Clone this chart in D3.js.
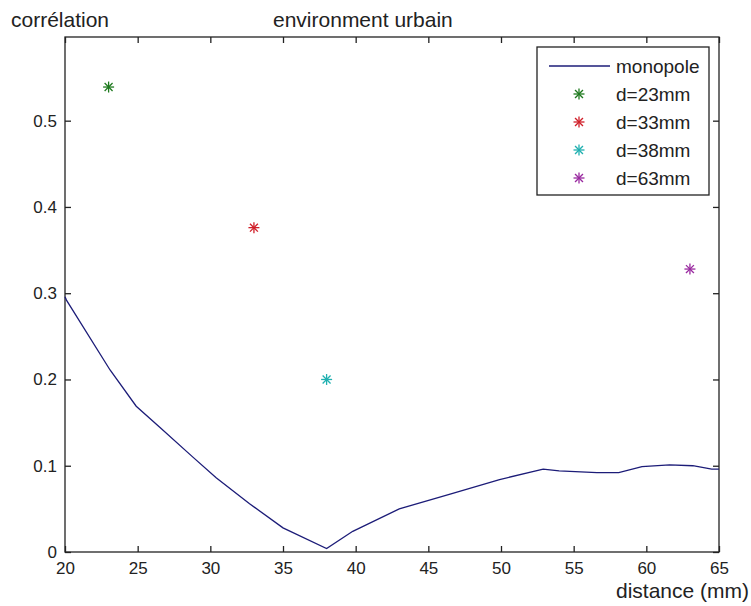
<!DOCTYPE html>
<html><head><meta charset="utf-8">
<script src="https://cdn.jsdelivr.net/npm/d3@7"></script>
<style>body{margin:0;background:#fff}svg{display:block}text{font-family:"Liberation Sans",Arial,sans-serif;fill:#222}</style>
</head><body><svg id="c" width="751" height="606"></svg>
<script>
const lineX = [20, 20.1, 23.1, 24.9, 26.5, 28.8, 30.4, 32.7, 35, 38, 39.8, 43, 46.5, 49.9, 52.9, 54, 56.6, 58.1, 59.7, 61.6, 63.2, 64.5, 65];
const lineY = [0.296, 0.292, 0.211, 0.169, 0.145, 0.110, 0.086, 0.056, 0.028, 0.004, 0.024, 0.050, 0.067, 0.084, 0.096, 0.094, 0.092, 0.092, 0.099, 0.101, 0.100, 0.096, 0.096];
const pointLabels = ["d=23mm", "d=33mm", "d=38mm", "d=63mm"];
const pointX = [23, 33, 38, 63];
const pointY = [0.539, 0.376, 0.200, 0.328];
const pointColors = ["#1f7a1f", "#d0202a", "#20b0b0", "#9a2aa0"];
const xTicks = [20, 25, 30, 35, 40, 45, 50, 55, 60, 65];
const yTicks = [0, 0.1, 0.2, 0.3, 0.4, 0.5];
const lineColor = "#1c1c78";

const svg = d3.select("#c");
const L = 65, R = 719, T = 37, B = 552;
const x = d3.scaleLinear().domain([20, 65]).range([L, R]);
const y = d3.scaleLinear().domain([0, 0.597]).range([B, T]);

svg.append("rect").attr("x", L).attr("y", T).attr("width", R - L).attr("height", B - T)
  .attr("fill", "none").attr("stroke", "#222").attr("stroke-width", 1.3);

const fmtY = d => d === 0 ? "0" : d3.format(".1f")(d);
const gx = svg.append("g").attr("transform", `translate(0,${B})`)
  .call(d3.axisBottom(x).tickValues(xTicks).tickSizeInner(-6).tickSizeOuter(0).tickPadding(9));
const gxt = svg.append("g").attr("transform", `translate(0,${T})`)
  .call(d3.axisTop(x).tickValues(xTicks).tickSizeInner(-6).tickSizeOuter(0).tickFormat(""));
const gy = svg.append("g").attr("transform", `translate(${L},0)`)
  .call(d3.axisLeft(y).tickValues(yTicks).tickSizeInner(-6).tickSizeOuter(0).tickPadding(8).tickFormat(fmtY));
const gyr = svg.append("g").attr("transform", `translate(${R},0)`)
  .call(d3.axisRight(y).tickValues(yTicks).tickSizeInner(-6).tickSizeOuter(0).tickFormat(""));
[gx, gxt, gy, gyr].forEach(g => {
  g.select(".domain").remove();
  g.selectAll(".tick line").attr("stroke", "#222").attr("stroke-width", 1.3);
  g.selectAll("text").style("font-size", "17px").attr("fill", "#222");
});
gx.selectAll("text").attr("dy", "0.75em");

svg.append("path").datum(lineX.map((d, i) => [d, lineY[i]]))
  .attr("d", d3.line().x(d => x(d[0])).y(d => y(d[1])))
  .attr("fill", "none").attr("stroke", lineColor).attr("stroke-width", 1.3);

function star(g, cx, cy, color, r) {
  const a = r * 0.72;
  const segs = [[-r, 0, r, 0], [0, -r, 0, r], [-a, -a, a, a], [-a, a, a, -a]];
  segs.forEach(s => g.append("line").attr("x1", cx + s[0]).attr("y1", cy + s[1])
    .attr("x2", cx + s[2]).attr("y2", cy + s[3]).attr("stroke", color).attr("stroke-width", 1.3));
}
pointX.forEach((d, i) => star(svg, x(d), y(pointY[i]), pointColors[i], 5.5));

svg.append("text").attr("x", 273).attr("y", 27).style("font-size", "21px").text("environment urbain");
svg.append("text").attr("x", 11).attr("y", 27).style("font-size", "21px").text("corrélation");
svg.append("text").attr("x", 749).attr("y", 598).attr("text-anchor", "end").style("font-size", "21px").text("distance (mm)");

const lg = svg.append("g");
lg.append("rect").attr("x", 537).attr("y", 47).attr("width", 172).attr("height", 148)
  .attr("fill", "#fff").attr("stroke", "#222").attr("stroke-width", 1.3);
const rows = [66, 94, 122, 150, 178];
lg.append("line").attr("x1", 549).attr("x2", 610).attr("y1", rows[0]).attr("y2", rows[0])
  .attr("stroke", lineColor).attr("stroke-width", 1.3);
lg.append("text").attr("x", 616).attr("y", rows[0]).attr("dy", "0.35em").style("font-size", "19px").text("monopole");
pointLabels.forEach((t, i) => {
  star(lg, 579, rows[i + 1], pointColors[i], 5.5);
  lg.append("text").attr("x", 616).attr("y", rows[i + 1]).attr("dy", "0.35em").style("font-size", "19px").text(t);
});
</script></body></html>
